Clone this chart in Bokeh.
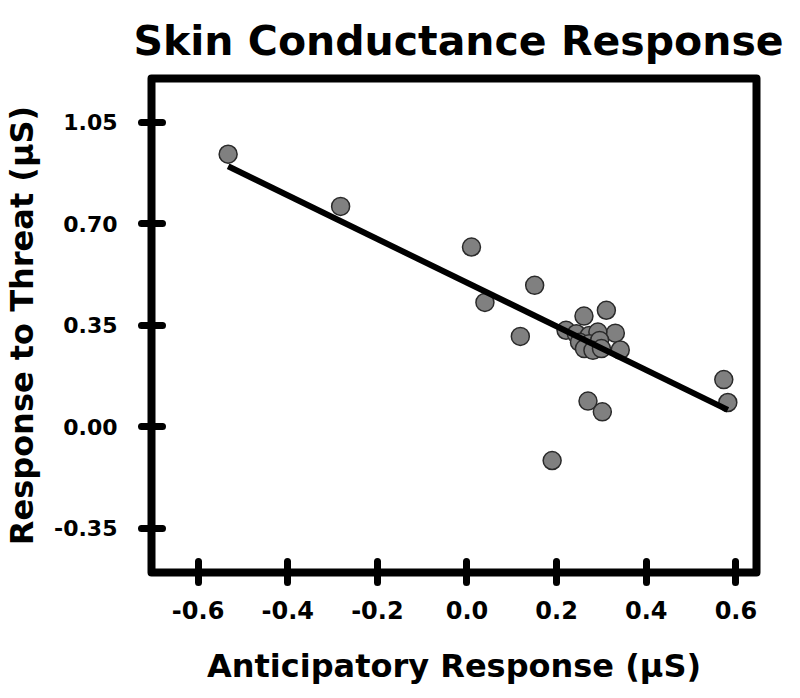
from bokeh.plotting import figure
from bokeh.models import FixedTicker, Range1d, ColumnDataSource
from bokeh.embed import file_html
from bokeh.resources import INLINE

# ---- data ----
anticipatory = [-0.533, -0.282, 0.010, 0.151, 0.040, 0.119, 0.261, 0.311, 0.331, 0.342,
                0.573, 0.582, 0.270, 0.302, 0.190,
                0.221, 0.244, 0.273, 0.292, 0.251, 0.273, 0.296, 0.262, 0.281, 0.300]
threat = [0.939, 0.759, 0.619, 0.487, 0.428, 0.311, 0.381, 0.401, 0.322, 0.264,
          0.162, 0.083, 0.088, 0.051, -0.117,
          0.332, 0.320, 0.314, 0.326, 0.291, 0.286, 0.297, 0.269, 0.263, 0.269]

x_ticks = [-0.6, -0.4, -0.2, 0.0, 0.2, 0.4, 0.6]
x_tick_labels = ["-0.6", "-0.4", "-0.2", "0.0", "0.2", "0.4", "0.6"]
y_ticks = [-0.35, 0.0, 0.35, 0.70, 1.05]
y_tick_labels = ["-0.35", "0.00", "0.35", "0.70", "1.05"]

fit_slope = -0.753
fit_intercept = 0.496

title_text = "Skin Conductance Response"
x_label = "Anticipatory Response (µS)"
y_label = "Response to Threat (µS)"

FONT = "DejaVu Sans"

p = figure(frame_width=605, frame_height=494,
           x_range=Range1d(-0.704, 0.646), y_range=Range1d(-0.503, 1.200),
           output_backend="svg", toolbar_location=None,
           min_border_left=0, min_border_right=28,
           min_border_top=0, min_border_bottom=0,
           background_fill_color="white", border_fill_color="white")

p.title.text = title_text
p.title.text_font = FONT
p.title.text_font_size = "41px"
p.title.text_font_style = "bold"
p.title.text_color = "black"
p.title.align = "left"
p.title.offset = -18
p.title.standoff = 28

p.grid.visible = False
p.outline_line_color = "black"
p.outline_line_width = 8
p.outline_line_join = "round"

for ax in (p.xaxis[0], p.yaxis[0]):
    ax.axis_line_color = None
    ax.major_tick_line_color = "black"
    ax.major_tick_line_width = 7
    ax.major_tick_line_cap = "round"
    ax.major_tick_in = 11
    ax.major_tick_out = 10
    ax.minor_tick_line_color = None
    ax.major_label_text_font = FONT
    ax.major_label_text_font_style = "bold"
    ax.major_label_text_color = "black"
    ax.axis_label_text_font = FONT
    ax.axis_label_text_font_style = "bold"
    ax.axis_label_text_font_size = "32px"
    ax.axis_label_text_color = "black"

p.xaxis.ticker = FixedTicker(ticks=x_ticks)
p.xaxis.major_label_overrides = {t: l for t, l in zip(x_ticks, x_tick_labels)}
p.xaxis.major_label_text_font_size = "24px"
p.xaxis.major_label_standoff = 18
p.xaxis.axis_label = x_label
p.xaxis.axis_label_standoff = 25

p.yaxis.ticker = FixedTicker(ticks=y_ticks)
p.yaxis.major_label_overrides = {t: l for t, l in zip(y_ticks, y_tick_labels)}
p.yaxis.major_label_text_font_size = "22px"
p.yaxis.major_label_standoff = 24
p.yaxis.axis_label = y_label
p.yaxis.axis_label_standoff = 10

src = ColumnDataSource(dict(x=anticipatory, y=threat))
p.scatter("x", "y", source=src, size=18, fill_color="#808080",
          line_color="#2a2a2a", line_width=1.5)

x0, x1 = min(anticipatory), max(anticipatory)
fit_src = ColumnDataSource(dict(x=[x0, x1],
                                y=[fit_intercept + fit_slope * x0, fit_intercept + fit_slope * x1]))
p.line("x", "y", source=fit_src, line_color="black", line_width=6)

open("out.html", "w").write(file_html(p, INLINE))
